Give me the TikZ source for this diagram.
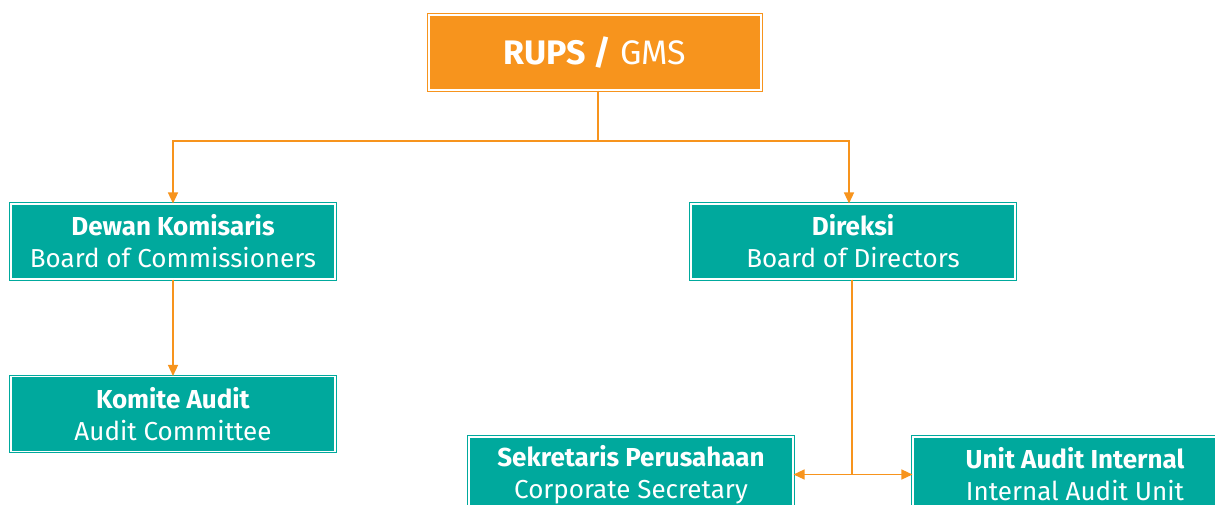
\documentclass[tikz,border=0pt]{standalone}
\usepackage{fontspec}
\setmainfont{Fira Sans}
\usetikzlibrary{arrows.meta}
\definecolor{teal1}{HTML}{00A99D}
\definecolor{orange1}{HTML}{F7941D}
\tikzset{
  box/.style={fill=#1, draw=white, line width=1.1pt, preaction={draw=#1, line width=3.6pt},
    minimum width=324pt, minimum height=75pt, inner sep=0pt, text=white, align=center,
    font=\fontsize{26}{32}\selectfont},
  box/.default=teal1,
  conn/.style={draw=orange1, line width=1.4pt, -{Triangle[length=11pt,width=10pt]}},
  plain/.style={draw=orange1, line width=1.4pt},
}
\begin{document}
\begin{tikzpicture}[x=1pt,y=-1pt]
\useasboundingbox (0,0) rectangle (1215,504);
\clip (0,0) rectangle (1215,504);
\node[box=orange1, minimum width=332pt, minimum height=75pt, font=\fontsize{34}{40}\selectfont] (rups) at (595,52.5) {\textbf{RUPS /} GMS};
\node[box] (dk) at (173,241.5) {\textbf{Dewan Komisaris}\\Board of Commissioners};
\node[box] (dir) at (853,241.5) {\textbf{Direksi}\\Board of Directors};
\node[box] (ka) at (173,414) {\textbf{Komite Audit}\\Audit Committee};
\node[box] (sek) at (631,474.5) {\textbf{Sekretaris Perusahaan}\\Corporate Secretary};
\node[box] (uai) at (1075,474.5) {\textbf{Unit Audit Internal}\\Internal Audit Unit};
\coordinate (split) at (598,141);
\draw[plain] (rups.south -| split) -- (split);
\draw[conn] (split) -| (dk.north);
\draw[conn] (split) -| ([xshift=-4pt]dir.north);
\draw[conn] (dk.south) -- (ka.north);
\draw[conn, {Triangle[length=11pt,width=10pt]}-{Triangle[length=11pt,width=10pt]}] (sek.east) -- (uai.west);
\draw[plain] ([xshift=-1pt]dir.south) -- ([xshift=-1pt]dir.south |- sek.east);
\end{tikzpicture}
\end{document}
